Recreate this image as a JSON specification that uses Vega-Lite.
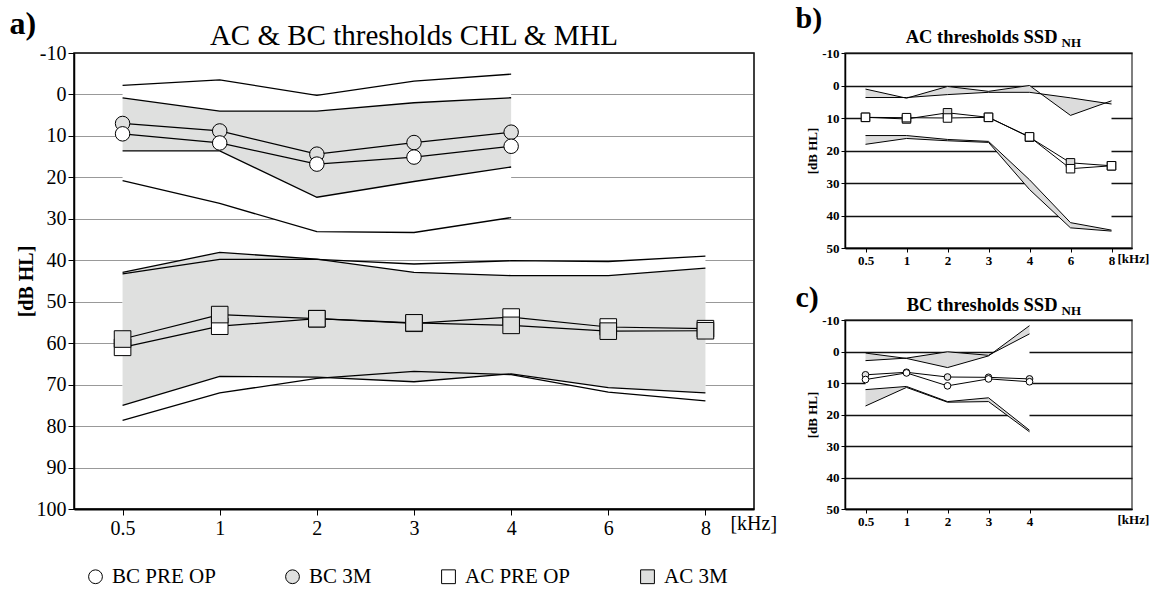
{
 "$schema": "https://vega.github.io/schema/vega-lite/v6.json",
 "background": "white",
 "padding": {"left": 8, "top": 3, "right": 0, "bottom": 0},
 "config": {
  "font": "Liberation Serif",
  "axis": {"labelColor": "black", "titleColor": "black", "tickColor": "black", "domainColor": "black", "labelFont": "Liberation Serif", "titleFont": "Liberation Serif"},
  "text": {"font": "Liberation Serif", "color": "black"},
  "legend": {"labelFont": "Liberation Serif"}
 },
 "datasets": {
  "a_bands": [
   {"grp": "BC", "f": "0.5", "pre_hi": -2.2, "pre_lo": 20.8, "m3_hi": 0.8, "m3_lo": 13.6},
   {"grp": "BC", "f": "1", "pre_hi": -3.5, "pre_lo": 26.3, "m3_hi": 4.0, "m3_lo": 13.6},
   {"grp": "BC", "f": "2", "pre_hi": 0.2, "pre_lo": 33.1, "m3_hi": 4.0, "m3_lo": 24.8},
   {"grp": "BC", "f": "3", "pre_hi": -3.2, "pre_lo": 33.3, "m3_hi": 2.0, "m3_lo": 21.0},
   {"grp": "BC", "f": "4", "pre_hi": -4.9, "pre_lo": 29.7, "m3_hi": 0.8, "m3_lo": 17.5},
   {"grp": "AC", "f": "0.5", "pre_hi": 43.3, "pre_lo": 78.6, "m3_hi": 42.9, "m3_lo": 75.0},
   {"grp": "AC", "f": "1", "pre_hi": 39.8, "pre_lo": 72.0, "m3_hi": 38.1, "m3_lo": 68.0},
   {"grp": "AC", "f": "2", "pre_hi": 39.8, "pre_lo": 68.5, "m3_hi": 39.7, "m3_lo": 68.2},
   {"grp": "AC", "f": "3", "pre_hi": 40.9, "pre_lo": 66.8, "m3_hi": 42.9, "m3_lo": 69.3},
   {"grp": "AC", "f": "4", "pre_hi": 40.1, "pre_lo": 67.6, "m3_hi": 43.7, "m3_lo": 67.4},
   {"grp": "AC", "f": "6", "pre_hi": 40.3, "pre_lo": 71.8, "m3_hi": 43.7, "m3_lo": 70.7},
   {"grp": "AC", "f": "8", "pre_hi": 39.0, "pre_lo": 73.9, "m3_hi": 41.9, "m3_lo": 72.0}
  ],
  "a_means": [
   {"kind": "BC", "series": "BC 3M", "f": "0.5", "db": 7.0},
   {"kind": "BC", "series": "BC 3M", "f": "1", "db": 8.8},
   {"kind": "BC", "series": "BC 3M", "f": "2", "db": 14.4},
   {"kind": "BC", "series": "BC 3M", "f": "3", "db": 11.6},
   {"kind": "BC", "series": "BC 3M", "f": "4", "db": 9.1},
   {"kind": "BC", "series": "BC PRE OP", "f": "0.5", "db": 9.5},
   {"kind": "BC", "series": "BC PRE OP", "f": "1", "db": 11.7},
   {"kind": "BC", "series": "BC PRE OP", "f": "2", "db": 16.8},
   {"kind": "BC", "series": "BC PRE OP", "f": "3", "db": 15.1},
   {"kind": "BC", "series": "BC PRE OP", "f": "4", "db": 12.5},
   {"kind": "AC", "series": "AC PRE OP", "f": "0.5", "db": 61.0},
   {"kind": "AC", "series": "AC PRE OP", "f": "1", "db": 55.9},
   {"kind": "AC", "series": "AC PRE OP", "f": "2", "db": 54.1},
   {"kind": "AC", "series": "AC PRE OP", "f": "3", "db": 55.2},
   {"kind": "AC", "series": "AC PRE OP", "f": "4", "db": 53.7},
   {"kind": "AC", "series": "AC PRE OP", "f": "6", "db": 56.1},
   {"kind": "AC", "series": "AC PRE OP", "f": "8", "db": 56.5},
   {"kind": "AC", "series": "AC 3M", "f": "0.5", "db": 59.0},
   {"kind": "AC", "series": "AC 3M", "f": "1", "db": 53.1},
   {"kind": "AC", "series": "AC 3M", "f": "2", "db": 54.1},
   {"kind": "AC", "series": "AC 3M", "f": "3", "db": 55.1},
   {"kind": "AC", "series": "AC 3M", "f": "4", "db": 55.7},
   {"kind": "AC", "series": "AC 3M", "f": "6", "db": 57.1},
   {"kind": "AC", "series": "AC 3M", "f": "8", "db": 57.0}
  ],
  "b_bands": [
   {"f": "0.5", "hi_a": 1.1, "hi_b": 3.7, "lo_a": 15.4, "lo_b": 18.1},
   {"f": "1", "hi_a": 3.9, "hi_b": 3.7, "lo_a": 15.4, "lo_b": 16.3},
   {"f": "2", "hi_a": 0.3, "hi_b": 2.8, "lo_a": 16.6, "lo_b": 17.0},
   {"f": "3", "hi_a": 1.8, "hi_b": 2.1, "lo_a": 17.2, "lo_b": 17.5},
   {"f": "4", "hi_a": 0.0, "hi_b": 2.1, "lo_a": 29.0, "lo_b": 32.0},
   {"f": "6", "hi_a": 9.2, "hi_b": 3.8, "lo_a": 42.2, "lo_b": 43.8},
   {"f": "8", "hi_a": 4.7, "hi_b": 5.7, "lo_a": 44.5, "lo_b": 44.8}
  ],
  "b_means": [
   {"series": "3M", "f": "0.5", "db": 9.8},
   {"series": "3M", "f": "1", "db": 10.3},
   {"series": "3M", "f": "2", "db": 8.4},
   {"series": "3M", "f": "3", "db": 9.8},
   {"series": "3M", "f": "4", "db": 15.9},
   {"series": "3M", "f": "6", "db": 23.8},
   {"series": "3M", "f": "8", "db": 24.7},
   {"series": "PRE OP", "f": "0.5", "db": 9.8},
   {"series": "PRE OP", "f": "1", "db": 9.9},
   {"series": "PRE OP", "f": "2", "db": 10.0},
   {"series": "PRE OP", "f": "3", "db": 9.8},
   {"series": "PRE OP", "f": "4", "db": 15.8},
   {"series": "PRE OP", "f": "6", "db": 25.6},
   {"series": "PRE OP", "f": "8", "db": 24.7}
  ],
  "c_bands": [
   {"f": "0.5", "hi_a": 0.5, "hi_b": 2.9, "lo_a": 12.1, "lo_b": 17.3},
   {"f": "1", "hi_a": 2.2, "hi_b": 2.1, "lo_a": 11.1, "lo_b": 11.4},
   {"f": "2", "hi_a": 5.1, "hi_b": 0.1, "lo_a": 15.9, "lo_b": 16.1},
   {"f": "3", "hi_a": 1.4, "hi_b": 1.2, "lo_a": 14.7, "lo_b": 15.9},
   {"f": "4", "hi_a": -8.2, "hi_b": -5.6, "lo_a": 25.0, "lo_b": 25.5}
  ],
  "c_means": [
   {"series": "3M", "f": "0.5", "db": 7.4},
   {"series": "3M", "f": "1", "db": 6.6},
   {"series": "3M", "f": "2", "db": 8.1},
   {"series": "3M", "f": "3", "db": 8.2},
   {"series": "3M", "f": "4", "db": 8.7},
   {"series": "PRE OP", "f": "0.5", "db": 8.9},
   {"series": "PRE OP", "f": "1", "db": 6.8},
   {"series": "PRE OP", "f": "2", "db": 10.9},
   {"series": "PRE OP", "f": "3", "db": 8.7},
   {"series": "PRE OP", "f": "4", "db": 9.6}
  ]
 },
 "bounds": "flush",
 "spacing": 91,
 "resolve": {"scale": {"x": "independent", "y": "independent", "fill": "independent", "shape": "independent", "stroke": "independent"}},
 "hconcat": [
  {
   "width": 680,
   "height": 456,
   "view": {"stroke": "black", "strokeWidth": 1.5},
   "encoding": {
    "x": {"field": "f", "type": "ordinal", "scale": {"type": "point", "domain": ["0.5", "1", "2", "3", "4", "6", "8"], "padding": 0.5},
     "axis": {"title": null, "labelFontSize": 20, "labelAngle": 0, "tickSize": 6, "domainWidth": 2, "labelPadding": 3, "grid": false}}
   },
   "layer": [
    {"data": {"name": "a_bands"}, "mark": {"type": "area", "fill": "white", "opacity": 1},
     "encoding": {
      "y": {"field": "pre_hi", "type": "quantitative", "title": "[dB HL]", "scale": {"domain": [-10, 100], "reverse": true, "nice": false, "zero": false},
       "axis": {"values": [-10, 0, 10, 20, 30, 40, 50, 60, 70, 80, 90, 100], "tickCount": 20, "labelExpr": "'' + datum.value", "labelOverlap": false, "labelFontSize": 20, "tickSize": 6, "domainWidth": 1.5, "grid": true, "gridColor": "#333", "gridDash": [1, 1], "gridWidth": 1, "titleFontSize": 20, "titleFontWeight": "bold", "titlePadding": 0, "labelPadding": 2}},
      "y2": {"field": "pre_lo"},
      "detail": {"field": "grp"}
     }},
    {"data": {"name": "a_bands"}, "mark": {"type": "area", "fill": "#dfe0df", "opacity": 1},
     "encoding": {"y": {"field": "m3_hi", "type": "quantitative", "title": "[dB HL]"}, "y2": {"field": "m3_lo"}, "detail": {"field": "grp"}}},
    {"data": {"name": "a_bands"}, "transform": [{"fold": ["pre_hi", "pre_lo", "m3_hi", "m3_lo"], "as": ["bound", "db"]}],
     "mark": {"type": "line", "color": "black", "strokeWidth": 1.3},
     "encoding": {"y": {"field": "db", "type": "quantitative", "title": "[dB HL]"}, "detail": [{"field": "grp"}, {"field": "bound"}]}},
    {"data": {"name": "a_means"}, "mark": {"type": "line", "color": "black", "strokeWidth": 1.2},
     "encoding": {"y": {"field": "db", "type": "quantitative", "title": "[dB HL]"}, "detail": {"field": "series"}}},
    {"data": {"name": "a_means"}, "transform": [{"filter": {"field": "kind", "equal": "BC"}}],
     "mark": {"type": "point", "filled": true, "size": 210, "strokeWidth": 1, "opacity": 1},
     "encoding": {
      "y": {"field": "db", "type": "quantitative", "title": "[dB HL]"},
      "fill": {"field": "series", "type": "nominal", "scale": {"domain": ["BC PRE OP", "BC 3M", "AC PRE OP", "AC 3M"], "range": ["white", "#dfe0df", "white", "#dfe0df"]},
       "legend": {"orient": "none", "legendX": 11, "legendY": 513, "direction": "horizontal", "title": null, "labelFontSize": 21, "labelColor": "black", "symbolSize": 190, "symbolStrokeWidth": 1, "columnPadding": 66, "labelOffset": 6}},
      "stroke": {"field": "series", "type": "nominal", "scale": {"domain": ["BC PRE OP", "BC 3M", "AC PRE OP", "AC 3M"], "range": ["black", "black", "black", "black"]},
       "legend": {"orient": "none", "legendX": 11, "legendY": 513, "direction": "horizontal", "title": null, "labelFontSize": 21, "labelColor": "black", "symbolSize": 190, "symbolStrokeWidth": 1, "columnPadding": 66, "labelOffset": 6}},
      "shape": {"field": "series", "type": "nominal", "scale": {"domain": ["BC PRE OP", "BC 3M", "AC PRE OP", "AC 3M"], "range": ["circle", "circle", "square", "square"]},
       "legend": {"orient": "none", "legendX": 11, "legendY": 513, "direction": "horizontal", "title": null, "labelFontSize": 21, "labelColor": "black", "symbolSize": 190, "symbolStrokeWidth": 1, "columnPadding": 66, "labelOffset": 6}}
     }},
    {"data": {"name": "a_means"}, "transform": [{"filter": {"field": "kind", "equal": "AC"}}],
     "mark": {"type": "point", "filled": true, "size": 275, "strokeWidth": 1, "opacity": 1},
     "encoding": {
      "y": {"field": "db", "type": "quantitative", "title": "[dB HL]"},
      "fill": {"field": "series", "type": "nominal"},
      "stroke": {"field": "series", "type": "nominal"},
      "shape": {"field": "series", "type": "nominal"}
     }},
    {"data": {"values": [{"t": "a)"}]}, "mark": {"type": "text", "align": "left", "baseline": "alphabetic", "dx": -113, "dy": -19, "fontSize": 32, "fontWeight": "bold"},
     "encoding": {"x": {"datum": "0.5"}, "y": {"datum": -10}, "text": {"field": "t"}}},
    {"data": {"values": [{"t": "AC & BC thresholds CHL & MHL"}]}, "mark": {"type": "text", "align": "center", "baseline": "alphabetic", "dy": -8, "fontSize": 29},
     "encoding": {"x": {"datum": "3"}, "y": {"datum": -10}, "text": {"field": "t"}}},
    {"data": {"values": [{"t": "[kHz]"}]}, "mark": {"type": "text", "align": "left", "baseline": "middle", "dx": 25, "dy": 15, "fontSize": 20},
     "encoding": {"x": {"datum": "8"}, "y": {"datum": 100}, "text": {"field": "t"}}}
   ]
  },
  {
   "bounds": "flush",
   "spacing": 72,
   "resolve": {"scale": {"x": "independent", "y": "independent"}},
   "vconcat": [
    {
     "width": 287,
     "height": 195,
     "view": {"stroke": "#555", "strokeWidth": 1.5},
     "encoding": {
      "x": {"field": "f", "type": "ordinal", "scale": {"type": "point", "domain": ["0.5", "1", "2", "3", "4", "6", "8"], "padding": 0.5},
       "axis": {"title": null, "labelFontSize": 13, "labelFontWeight": "bold", "labelAngle": 0, "tickSize": 4, "domainWidth": 1.5, "labelPadding": 2, "grid": false}}
     },
     "layer": [
      {"data": {"name": "b_bands"}, "mark": {"type": "area", "fill": "white", "opacity": 1},
       "encoding": {
        "y": {"field": "hi_a", "type": "quantitative", "title": "[dB HL]", "scale": {"domain": [-10, 50], "reverse": true, "nice": false, "zero": false},
         "axis": {"values": [-10, 0, 10, 20, 30, 40, 50], "tickCount": 20, "labelExpr": "'' + datum.value", "labelOverlap": false, "labelFontSize": 13, "labelFontWeight": "bold", "tickSize": 4, "domainWidth": 1.5, "grid": true, "gridColor": "#111", "gridWidth": 1.3, "titleFontSize": 13, "titleFontWeight": "bold", "titlePadding": 2, "labelPadding": 2}},
        "y2": {"field": "lo_b"}
       }},
      {"data": {"name": "b_bands"}, "mark": {"type": "area", "fill": "#dcdcdc", "opacity": 1},
       "encoding": {"y": {"field": "hi_a", "type": "quantitative", "title": "[dB HL]"}, "y2": {"field": "hi_b"}}},
      {"data": {"name": "b_bands"}, "mark": {"type": "area", "fill": "#dcdcdc", "opacity": 1},
       "encoding": {"y": {"field": "lo_a", "type": "quantitative", "title": "[dB HL]"}, "y2": {"field": "lo_b"}}},
      {"data": {"name": "b_bands"}, "transform": [{"fold": ["hi_a", "hi_b", "lo_a", "lo_b"], "as": ["bound", "db"]}],
       "mark": {"type": "line", "color": "black", "strokeWidth": 1},
       "encoding": {"y": {"field": "db", "type": "quantitative", "title": "[dB HL]"}, "detail": {"field": "bound"}}},
      {"data": {"name": "b_means"}, "mark": {"type": "line", "color": "black", "strokeWidth": 1},
       "encoding": {"y": {"field": "db", "type": "quantitative", "title": "[dB HL]"}, "detail": {"field": "series"}}},
      {"data": {"name": "b_means"}, "transform": [{"filter": {"field": "series", "equal": "3M"}}],
       "mark": {"type": "point", "shape": "square", "filled": true, "fill": "#dcdcdc", "size": 72, "stroke": "black", "strokeWidth": 1, "opacity": 1},
       "encoding": {"y": {"field": "db", "type": "quantitative", "title": "[dB HL]"}}},
      {"data": {"name": "b_means"}, "transform": [{"filter": {"field": "series", "equal": "PRE OP"}}],
       "mark": {"type": "point", "shape": "square", "filled": true, "fill": "white", "size": 72, "stroke": "black", "strokeWidth": 1, "opacity": 1},
       "encoding": {"y": {"field": "db", "type": "quantitative", "title": "[dB HL]"}}},
      {"data": {"values": [{"t": "b)"}]}, "mark": {"type": "text", "align": "left", "baseline": "alphabetic", "dx": -70, "dy": -25, "fontSize": 30, "fontWeight": "bold"},
       "encoding": {"x": {"datum": "0.5"}, "y": {"datum": -10}, "text": {"field": "t"}}},
      {"data": {"values": [{"t": "AC thresholds SSD"}]}, "mark": {"type": "text", "align": "right", "baseline": "alphabetic", "dx": -13, "dy": -10, "fontSize": 18.5, "fontWeight": "bold"},
       "encoding": {"x": {"datum": "6"}, "y": {"datum": -10}, "text": {"field": "t"}}},
      {"data": {"values": [{"t": "NH"}]}, "mark": {"type": "text", "align": "left", "baseline": "alphabetic", "dx": -9, "dy": -6, "fontSize": 13, "fontWeight": "bold"},
       "encoding": {"x": {"datum": "6"}, "y": {"datum": -10}, "text": {"field": "t"}}},
      {"data": {"values": [{"t": "[kHz]"}]}, "mark": {"type": "text", "align": "left", "baseline": "middle", "dx": 6, "dy": 11, "fontSize": 13, "fontWeight": "bold"},
       "encoding": {"x": {"datum": "8"}, "y": {"datum": 50}, "text": {"field": "t"}}}
     ]
    },
    {
     "width": 287,
     "height": 189,
     "view": {"stroke": "#555", "strokeWidth": 1.5},
     "encoding": {
      "x": {"field": "f", "type": "ordinal", "scale": {"type": "point", "domain": ["0.5", "1", "2", "3", "4", "6", "8"], "padding": 0.5},
       "axis": {"title": null, "values": ["0.5", "1", "2", "3", "4"], "labelFontSize": 13, "labelFontWeight": "bold", "labelAngle": 0, "tickSize": 4, "domainWidth": 1.5, "labelPadding": 2, "grid": false}}
     },
     "layer": [
      {"data": {"name": "c_bands"}, "mark": {"type": "area", "fill": "white", "opacity": 1},
       "encoding": {
        "y": {"field": "hi_a", "type": "quantitative", "title": "[dB HL]", "scale": {"domain": [-10, 50], "reverse": true, "nice": false, "zero": false},
         "axis": {"values": [-10, 0, 10, 20, 30, 40, 50], "tickCount": 20, "labelExpr": "'' + datum.value", "labelOverlap": false, "labelFontSize": 13, "labelFontWeight": "bold", "tickSize": 4, "domainWidth": 1.5, "grid": true, "gridColor": "#111", "gridWidth": 1.3, "titleFontSize": 13, "titleFontWeight": "bold", "titlePadding": 2, "labelPadding": 2}},
        "y2": {"field": "lo_b"}
       }},
      {"data": {"name": "c_bands"}, "mark": {"type": "area", "fill": "#dcdcdc", "opacity": 1},
       "encoding": {"y": {"field": "hi_a", "type": "quantitative", "title": "[dB HL]"}, "y2": {"field": "hi_b"}}},
      {"data": {"name": "c_bands"}, "mark": {"type": "area", "fill": "#dcdcdc", "opacity": 1},
       "encoding": {"y": {"field": "lo_a", "type": "quantitative", "title": "[dB HL]"}, "y2": {"field": "lo_b"}}},
      {"data": {"name": "c_bands"}, "transform": [{"fold": ["hi_a", "hi_b", "lo_a", "lo_b"], "as": ["bound", "db"]}],
       "mark": {"type": "line", "color": "black", "strokeWidth": 1},
       "encoding": {"y": {"field": "db", "type": "quantitative", "title": "[dB HL]"}, "detail": {"field": "bound"}}},
      {"data": {"name": "c_means"}, "mark": {"type": "line", "color": "black", "strokeWidth": 1},
       "encoding": {"y": {"field": "db", "type": "quantitative", "title": "[dB HL]"}, "detail": {"field": "series"}}},
      {"data": {"name": "c_means"}, "transform": [{"filter": {"field": "series", "equal": "3M"}}],
       "mark": {"type": "point", "shape": "circle", "filled": true, "fill": "#e4e4e4", "size": 45, "stroke": "black", "strokeWidth": 1, "opacity": 1},
       "encoding": {"y": {"field": "db", "type": "quantitative", "title": "[dB HL]"}}},
      {"data": {"name": "c_means"}, "transform": [{"filter": {"field": "series", "equal": "PRE OP"}}],
       "mark": {"type": "point", "shape": "circle", "filled": true, "fill": "white", "size": 45, "stroke": "black", "strokeWidth": 1, "opacity": 1},
       "encoding": {"y": {"field": "db", "type": "quantitative", "title": "[dB HL]"}}},
      {"data": {"values": [{"t": "c)"}]}, "mark": {"type": "text", "align": "left", "baseline": "alphabetic", "dx": -70, "dy": -13, "fontSize": 30, "fontWeight": "bold"},
       "encoding": {"x": {"datum": "0.5"}, "y": {"datum": -10}, "text": {"field": "t"}}},
      {"data": {"values": [{"t": "BC thresholds SSD"}]}, "mark": {"type": "text", "align": "right", "baseline": "alphabetic", "dx": -13, "dy": -9, "fontSize": 18.5, "fontWeight": "bold"},
       "encoding": {"x": {"datum": "6"}, "y": {"datum": -10}, "text": {"field": "t"}}},
      {"data": {"values": [{"t": "NH"}]}, "mark": {"type": "text", "align": "left", "baseline": "alphabetic", "dx": -9, "dy": -5, "fontSize": 13, "fontWeight": "bold"},
       "encoding": {"x": {"datum": "6"}, "y": {"datum": -10}, "text": {"field": "t"}}},
      {"data": {"values": [{"t": "[kHz]"}]}, "mark": {"type": "text", "align": "left", "baseline": "middle", "dx": 6, "dy": 11, "fontSize": 13, "fontWeight": "bold"},
       "encoding": {"x": {"datum": "8"}, "y": {"datum": 50}, "text": {"field": "t"}}}
     ]
    }
   ]
  }
 ]
}
